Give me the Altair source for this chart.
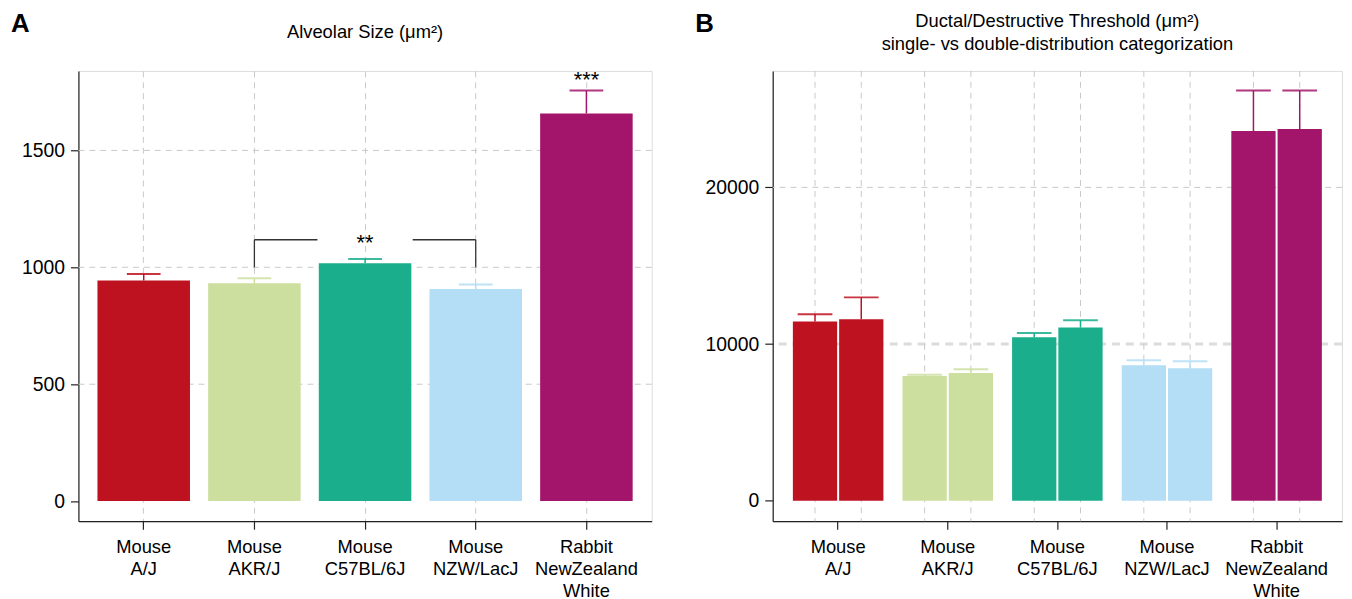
import altair as alt
import pandas as pd

FONT = "Liberation Sans"

# ---------------- data ----------------
categories = ["Mouse\nA/J", "Mouse\nAKR/J", "Mouse\nC57BL/6J", "Mouse\nNZW/LacJ",
              "Rabbit\nNewZealand\nWhite"]
colors = ["#BE1220", "#CDDF9F", "#1BAE8C", "#B3DEF5", "#A3156A"]

alveolar_mean = [944, 932, 1017, 907, 1658]
alveolar_upper = [971, 953, 1036, 927, 1756]

groups = ["single", "double"]
threshold_single_mean = [11440, 7960, 10430, 8650, 23590]
threshold_single_upper = [11900, 8040, 10700, 8970, 26180]
threshold_double_mean = [11580, 8150, 11060, 8460, 23720]
threshold_double_upper = [12980, 8400, 11520, 8900, 26180]

bracket_from = ["Mouse\nAKR/J"]
bracket_mid = ["Mouse\nC57BL/6J"]
bracket_to = ["Mouse\nNZW/LacJ"]
bracket_level = [1118]
bracket_drop = [1000]
bracket_label = ["**"]

star_cat = ["Rabbit\nNewZealand\nWhite"]
star_level = [1814]
star_label = ["***"]

grid_a = [500, 1000, 1500]
grid_b = [20000]
ref_b = [10000]

A_DOMAIN = [-86, 1840]
B_DOMAIN = [-1304, 27430]
A_TICKS = [0, 500, 1000, 1500]
B_TICKS = [0, 10000, 20000]

title_a = ["Alveolar Size (μm²)"]
title_b1 = ["Ductal/Destructive Threshold (μm²)"]
title_b2 = ["single- vs double-distribution categorization"]

GRID_COLOR = "#c8c8c8"
AXIS_COLOR = "#222222"
W_A, W_B, H = 578, 574, 454


def x_axis(grid):
    return alt.Axis(title=None, labelExpr="split(datum.label, '\\n')", labelAngle=0,
                    labelFont=FONT, labelFontSize=18.5, labelLineHeight=22,
                    labelColor="black", labelPadding=9, labelBaseline="top",
                    tickSize=8, tickColor=AXIS_COLOR, tickWidth=1.2,
                    domainColor=AXIS_COLOR, domainWidth=1.2,
                    grid=grid, gridDash=[6, 5], gridColor=GRID_COLOR,
                    bandPosition=0.5)


def y_axis(values):
    return alt.Axis(title=None, values=values, format="d", labelFont=FONT,
                    labelFontSize=19.5, labelColor="black", labelPadding=6,
                    tickSize=8, tickColor=AXIS_COLOR, tickWidth=1.2,
                    domainColor=AXIS_COLOR, domainWidth=1.2, grid=False)


color = alt.Color("cat:N", scale=alt.Scale(domain=categories, range=colors), legend=None)


def text_layer(df, x, y, size, weight="normal", align="center"):
    return alt.Chart(df).mark_text(
        align=align, baseline="middle", font=FONT, fontSize=size, fontWeight=weight,
        color="black").encode(x=alt.value(x), y=alt.value(y), text="t:N")


# ---------------- panel A ----------------
xa_scale = alt.Scale(domain=categories, paddingInner=0.164, paddingOuter=0.172)
ya_scale = alt.Scale(domain=A_DOMAIN, nice=False, zero=False)


def XA(f):
    return alt.X(f, scale=xa_scale, axis=x_axis(True))


def YA(f):
    return alt.Y(f, scale=ya_scale, axis=y_axis(A_TICKS))


dfA = pd.DataFrame({"cat": categories, "mean": alveolar_mean, "upper": alveolar_upper})
dfBr = pd.DataFrame({"a": bracket_from, "b": bracket_mid, "c": bracket_to,
                     "level": bracket_level, "drop": bracket_drop, "label": bracket_label})
dfStar = pd.DataFrame({"cat": star_cat, "level": star_level, "label": star_label})

gridA = alt.Chart(pd.DataFrame({"level": grid_a})).mark_rule(
    color=GRID_COLOR, strokeDash=[6, 5], strokeWidth=1).encode(y=YA("level:Q"))
barsA = alt.Chart(dfA).mark_bar().encode(x=XA("cat:N"), y=YA("mean:Q"), y2=alt.datum(0), color=color)
stemsA = alt.Chart(dfA).mark_rule(strokeWidth=1.5).encode(
    x=XA("cat:N"), y=YA("mean:Q"), y2="upper:Q", color=color)
capsA = alt.Chart(dfA).mark_tick(size=34, thickness=2, opacity=0.85).encode(
    x=XA("cat:N"), y=YA("upper:Q"), color=color)
brLeft = alt.Chart(dfBr).mark_rule(color="#333", strokeWidth=1.3, x2Offset=-48).encode(
    x=XA("a:N"), x2="b:N", y=YA("level:Q"))
brRight = alt.Chart(dfBr).mark_rule(color="#333", strokeWidth=1.3, xOffset=48).encode(
    x=XA("b:N"), x2="c:N", y=YA("level:Q"))
legL = alt.Chart(dfBr).mark_rule(color="#333", strokeWidth=1.3).encode(
    x=XA("a:N"), y=YA("level:Q"), y2="drop:Q")
legR = alt.Chart(dfBr).mark_rule(color="#333", strokeWidth=1.3).encode(
    x=XA("c:N"), y=YA("level:Q"), y2="drop:Q")
brText = alt.Chart(dfBr).mark_text(font=FONT, fontSize=22, baseline="middle", dy=3, color="black").encode(
    x=XA("b:N"), y=YA("level:Q"), text="label:N")
starText = alt.Chart(dfStar).mark_text(font=FONT, fontSize=22, baseline="middle", dy=3, color="black").encode(
    x=XA("cat:N"), y=YA("level:Q"), text="label:N")
labelA = text_layer(pd.DataFrame({"t": ["A"]}), -68, -47, 26, "bold", "left")
titleA = text_layer(pd.DataFrame({"t": title_a}), W_A / 2, -39, 18.5)

panelA = alt.layer(gridA, barsA, stemsA, capsA, brLeft, brRight, legL, legR, brText,
                   starText, labelA, titleA).properties(width=W_A, height=H)

# ---------------- panel B ----------------
rows = []
for i, c in enumerate(categories):
    rows.append({"cat": c, "group": "single", "mean": threshold_single_mean[i],
                 "upper": threshold_single_upper[i]})
    rows.append({"cat": c, "group": "double", "mean": threshold_double_mean[i],
                 "upper": threshold_double_upper[i]})
dfB = pd.DataFrame(rows)

xb_scale = alt.Scale(domain=categories, paddingInner=0.174, paddingOuter=0.184)
yb_scale = alt.Scale(domain=B_DOMAIN, nice=False, zero=False)
XO = alt.XOffset("group:N", scale=alt.Scale(domain=groups, paddingInner=0.043, paddingOuter=0))


def XB(f):
    return alt.X(f, scale=xb_scale, axis=x_axis(False))


def YB(f):
    return alt.Y(f, scale=yb_scale, axis=y_axis(B_TICKS))


gridB = alt.Chart(pd.DataFrame({"level": grid_b})).mark_rule(
    color=GRID_COLOR, strokeDash=[6, 5], strokeWidth=1).encode(y=YB("level:Q"))
refB = alt.Chart(pd.DataFrame({"level": ref_b})).mark_rule(
    color="#dcdcdc", strokeDash=[8, 6], strokeWidth=3).encode(y=YB("level:Q"))
vgridB = alt.Chart(dfB).mark_rule(color=GRID_COLOR, strokeDash=[6, 5], strokeWidth=1).encode(
    x=XB("cat:N"), xOffset=XO)
barsB = alt.Chart(dfB).mark_bar().encode(
    x=XB("cat:N"), xOffset=XO, y=YB("mean:Q"), y2=alt.datum(0), color=color)
stemsB = alt.Chart(dfB).mark_rule(strokeWidth=1.5).encode(
    x=XB("cat:N"), xOffset=XO, y=YB("mean:Q"), y2="upper:Q", color=color)
capsB = alt.Chart(dfB).mark_tick(size=35, thickness=2, opacity=0.85).encode(
    x=XB("cat:N"), xOffset=XO, y=YB("upper:Q"), color=color)
labelB = text_layer(pd.DataFrame({"t": ["B"]}), -78, -47, 26, "bold", "left")
titleB1 = text_layer(pd.DataFrame({"t": title_b1}), W_B / 2, -50, 18.5)
titleB2 = text_layer(pd.DataFrame({"t": title_b2}), W_B / 2, -27, 18.5)

panelB = alt.layer(refB, gridB, vgridB, barsB, stemsB, capsB, labelB, titleB1,
                   titleB2).properties(width=W_B, height=H)

chart = alt.hconcat(panelA, panelB, spacing=122, bounds="flush").properties(
    padding={"left": 2, "top": 0, "right": 0, "bottom": 0}
).configure_view(stroke=None).configure(font=FONT)

chart.save("out.html", embed_options={"renderer": "svg", "actions": False})
